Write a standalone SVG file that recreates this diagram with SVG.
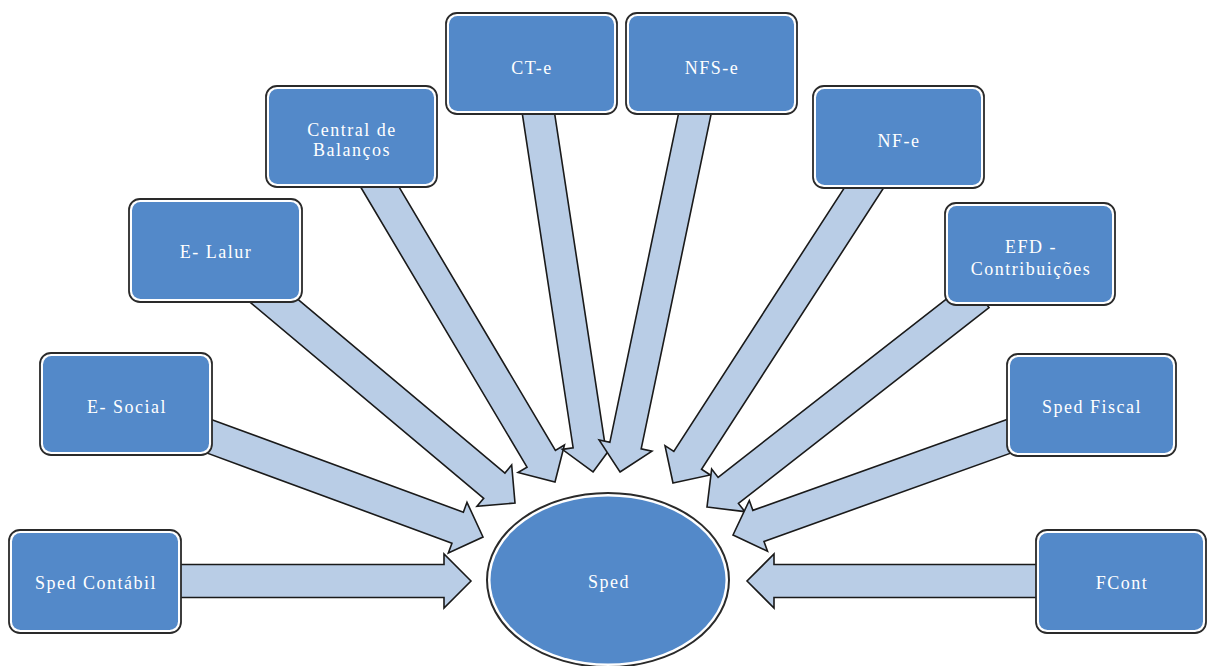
<svg xmlns="http://www.w3.org/2000/svg" width="1208" height="666" viewBox="0 0 1208 666">
<defs>
<style>
.arr{fill:#B9CDE6;stroke:#1a1a1a;stroke-width:1.6;stroke-linejoin:miter}
.outer{fill:#ffffff;stroke:#2a2a2a;stroke-width:1.8}
.inner{fill:#5389C9;stroke:none}
.t{font-family:"Liberation Serif","DejaVu Serif",serif;font-size:18px;letter-spacing:1.5px;fill:#ffffff;text-anchor:middle}
</style>
</defs>
<rect width="1208" height="666" fill="#ffffff"/>
<g id="connectors">
<polygon class="arr" transform="translate(471,581) rotate(0)" points="0,0 -27,-27 -27,-16.5 -301,-16.5 -301,16.5 -27,16.5 -27,27"/>
<polygon class="arr" transform="translate(483,537) rotate(20.2)" points="0,0 -27,-27 -27,-16.5 -300,-16.5 -300,16.5 -27,16.5 -27,27"/>
<polygon class="arr" transform="translate(515,503) rotate(40)" points="0,0 -27,-27 -27,-16.5 -331,-16.5 -331,16.5 -27,16.5 -27,27"/>
<polygon class="arr" transform="translate(555,482) rotate(59.3)" points="0,0 -27,-27 -27,-16.5 -357,-16.5 -357,16.5 -27,16.5 -27,27"/>
<polygon class="arr" transform="translate(593,472) rotate(81.35)" points="0,0 -27,-27 -27,-16 -371,-16 -371,16 -27,16 -27,27"/>
<polygon class="arr" transform="translate(620,472) rotate(101.8)" points="0,0 -27,-27 -27,-16 -375,-16 -375,16 -27,16 -27,27"/>
<polygon class="arr" transform="translate(673,483) rotate(122.9)" points="0,0 -27,-27 -27,-16.5 -366,-16.5 -366,16.5 -27,16.5 -27,27"/>
<polygon class="arr" transform="translate(707,507) rotate(142)" points="0,0 -27,-27 -27,-16.5 -345,-16.5 -345,16.5 -27,16.5 -27,27"/>
<polygon class="arr" transform="translate(733,535) rotate(160.3)" points="0,0 -27,-27 -27,-16.5 -305,-16.5 -305,16.5 -27,16.5 -27,27"/>
<polygon class="arr" transform="translate(747,581) rotate(180)" points="0,0 -27,-27 -27,-16.5 -300,-16.5 -300,16.5 -27,16.5 -27,27"/>
</g>
<g id="sped">
<ellipse cx="608" cy="580" rx="121" ry="87" fill="#ffffff" stroke="#2a2a2a" stroke-width="2"/>
<ellipse cx="608" cy="580" rx="117.5" ry="83.5" class="inner"/>
<text class="t" x="609" y="588">Sped</text>
</g>
<g id="sped-contabil">
<rect class="outer" x="9" y="530" width="172" height="103" rx="11"/>
<rect class="inner" x="12" y="533" width="166" height="97" rx="8.5"/>
<text class="t" x="96" y="589">Sped Contábil</text>
</g>
<g id="e-social">
<rect class="outer" x="40" y="353" width="172" height="102" rx="11"/>
<rect class="inner" x="43" y="356" width="166" height="96" rx="8.5"/>
<text class="t" x="127" y="413">E- Social</text>
</g>
<g id="e-lalur">
<rect class="outer" x="129" y="199" width="173" height="103" rx="11"/>
<rect class="inner" x="132" y="202" width="167" height="97" rx="8.5"/>
<text class="t" x="216" y="258">E- Lalur</text>
</g>
<g id="central-balancos">
<rect class="outer" x="266" y="86" width="171" height="101" rx="11"/>
<rect class="inner" x="269" y="89" width="165" height="95" rx="8.5"/>
<text class="t" x="352" y="136">Central de</text>
<text class="t" x="352" y="156">Balanços</text>
</g>
<g id="ct-e">
<rect class="outer" x="446" y="13" width="171" height="101" rx="11"/>
<rect class="inner" x="449" y="16" width="165" height="95" rx="8.5"/>
<text class="t" x="532" y="74">CT-e</text>
</g>
<g id="nfs-e">
<rect class="outer" x="626" y="13" width="171" height="101" rx="11"/>
<rect class="inner" x="629" y="16" width="165" height="95" rx="8.5"/>
<text class="t" x="712" y="74">NFS-e</text>
</g>
<g id="nf-e">
<rect class="outer" x="813" y="86" width="171" height="102" rx="11"/>
<rect class="inner" x="816" y="89" width="165" height="96" rx="8.5"/>
<text class="t" x="899" y="147">NF-e</text>
</g>
<g id="efd-contribuicoes">
<rect class="outer" x="945" y="203" width="170" height="102" rx="11"/>
<rect class="inner" x="948" y="206" width="164" height="96" rx="8.5"/>
<text class="t" x="1031" y="253">EFD -</text>
<text class="t" x="1031" y="275">Contribuições</text>
</g>
<g id="sped-fiscal">
<rect class="outer" x="1007" y="354" width="169" height="102" rx="11"/>
<rect class="inner" x="1010" y="357" width="163" height="96" rx="8.5"/>
<text class="t" x="1092" y="413">Sped Fiscal</text>
</g>
<g id="fcont">
<rect class="outer" x="1036" y="530" width="170" height="103" rx="11"/>
<rect class="inner" x="1039" y="533" width="164" height="97" rx="8.5"/>
<text class="t" x="1122" y="589">FCont</text>
</g>
</svg>
